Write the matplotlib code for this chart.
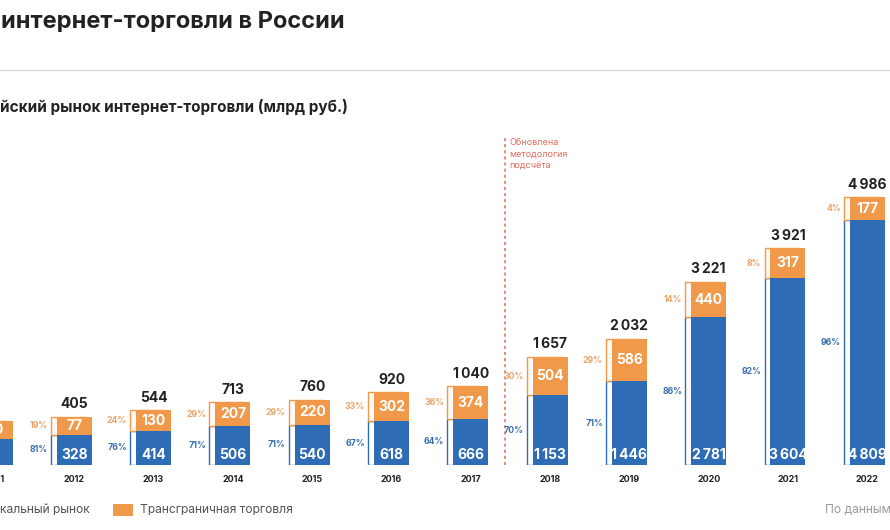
import matplotlib
matplotlib.use("Agg")
import matplotlib.pyplot as plt
from matplotlib.patches import Rectangle

plt.rcParams['font.family'] = ['Inter', 'DejaVu Sans']

# ---------------- data ----------------
years = ["2011", "2012", "2013", "2014", "2015", "2016", "2017",
         "2018", "2019", "2020", "2021", "2022"]
local = [250, 328, 414, 506, 540, 618, 666, 1153, 1446, 2781, 3604, 4809]
cross = [60, 77, 130, 207, 220, 302, 374, 504, 586, 440, 317, 177]
total = [310, 405, 544, 713, 760, 920, 1040, 1657, 2032, 3221, 3921, 4986]
local_pct = [81, 81, 76, 71, 71, 67, 64, 70, 71, 86, 92, 96]
cross_pct = [19, 19, 24, 29, 29, 33, 36, 30, 29, 14, 8, 4]

# visible parts of the texts (the reference picture is a crop)
title = "интернет-торговли в России"
subtitle = "йский рынок интернет-торговли (млрд руб.)"
legend_labels = ["кальный рынок", "Трансграничная торговля"]
note = "Обновлена\nметодология\nподсчёта"
source = "По данным"

# ---------------- style ----------------
BLUE = "#2e6db5"
ORANGE = "#f0994b"
BLUE_TXT = "#3a70b0"
ORANGE_TXT = "#e9a56a"
DARK = "#222222"
RED = "#e06b5c"
PAD = 300          # visual padding per segment (design of the original)
W, H = 890, 530

def fx(px):
    return px / W

def fy(py):
    return 1 - py / H

def fmt(v):
    return f"{v:,}".replace(",", "\u202f")

fig = plt.figure(figsize=(W / 100, H / 100), dpi=100)
fig.patch.set_facecolor("white")

ax_bottom_px, ax_top_px = 465, 130
ax = fig.add_axes([0, fy(ax_bottom_px), 1, (ax_bottom_px - ax_top_px) / H])
spacing_px = 79.3
ax.set_xlim(5 / spacing_px, 895 / spacing_px)
ymax = 6994
ax.set_ylim(0, ymax)
ax.axis("off")

bw = 35 / spacing_px
shift = 6 / spacing_px

x = list(range(len(years)))
blue_h = [v + PAD for v in local]
orange_h = [v + PAD for v in cross]

# outline "shadow" strips
ax.bar([i - shift for i in x], blue_h, width=bw, color="white",
       edgecolor=BLUE, linewidth=1.0, zorder=1)
ax.bar([i - shift for i in x], orange_h, bottom=blue_h, width=bw,
       color="#fffaf5", edgecolor=ORANGE, linewidth=1.0, zorder=1)
# filled bars
ax.bar(x, blue_h, width=bw, color=BLUE, linewidth=0, zorder=2)
ax.bar(x, orange_h, bottom=blue_h, width=bw, color=ORANGE, linewidth=0, zorder=2)

for i in x:
    b = blue_h[i]
    o = orange_h[i]
    ax.annotate(fmt(local[i]), (i, 0), xytext=(0, 2.5), textcoords="offset points",
                ha="center", va="bottom", color="white", fontsize=10,
                fontweight="bold", zorder=3)
    ax.text(i, b + o / 2, fmt(cross[i]), ha="center", va="center",
            color="white", fontsize=10, fontweight="bold", zorder=3)
    ax.annotate(fmt(total[i]), (i, b + o), xytext=(0, 4), textcoords="offset points",
                ha="center", va="bottom", color=DARK, fontsize=10,
                fontweight="bold", zorder=3)
    xp = i - bw / 2 - shift - 3 / spacing_px
    ax.text(xp, b / 2, f"{local_pct[i]}%", ha="right", va="center",
            color=BLUE_TXT, fontsize=6.3, fontweight="bold")
    ax.text(xp, b + o / 2, f"{cross_pct[i]}%", ha="right", va="center",
            color=ORANGE_TXT, fontsize=6.3, fontweight="bold")
    ax.annotate(years[i], (i, 0), xytext=(0, -7), textcoords="offset points",
                ha="center", va="top", color=DARK, fontsize=6.5,
                fontweight="bold", annotation_clip=False)

# methodology change line
xline = (505 + 5) / spacing_px
ax.axvline(xline, ymin=0, ymax=(ax_bottom_px - 138) / (ax_bottom_px - ax_top_px),
           color=RED, linestyle=(0, (2, 2)), linewidth=1.1, zorder=0)
fig.text(fx(509), fy(138), note, ha="left", va="top", color=RED,
         fontsize=6.5, linespacing=1.35)

# header
fig.text(fx(1), fy(22), title, ha="left", va="center", color="#222222",
         fontsize=17, fontweight="bold")
fig.add_artist(plt.Line2D([0, 1], [fy(70), fy(70)], color="#dddddd", linewidth=1))
fig.text(fx(0), fy(107), subtitle, ha="left", va="center", color="#222222",
         fontsize=11, fontweight="bold")

# legend (manual)
fig.text(fx(0), fy(510), legend_labels[0], ha="left", va="center",
         color="#555555", fontsize=8.7)
fig.add_artist(Rectangle((fx(113), fy(516)), fx(20), 12 / H, transform=fig.transFigure,
                         facecolor=ORANGE, edgecolor="none"))
fig.text(fx(140), fy(510), legend_labels[1], ha="left", va="center",
         color="#555555", fontsize=8.7)
fig.text(fx(825), fy(510), source, ha="left", va="center",
         color="#9a9a9a", fontsize=8.7)

fig.savefig("out.png", dpi=100, facecolor="white")
